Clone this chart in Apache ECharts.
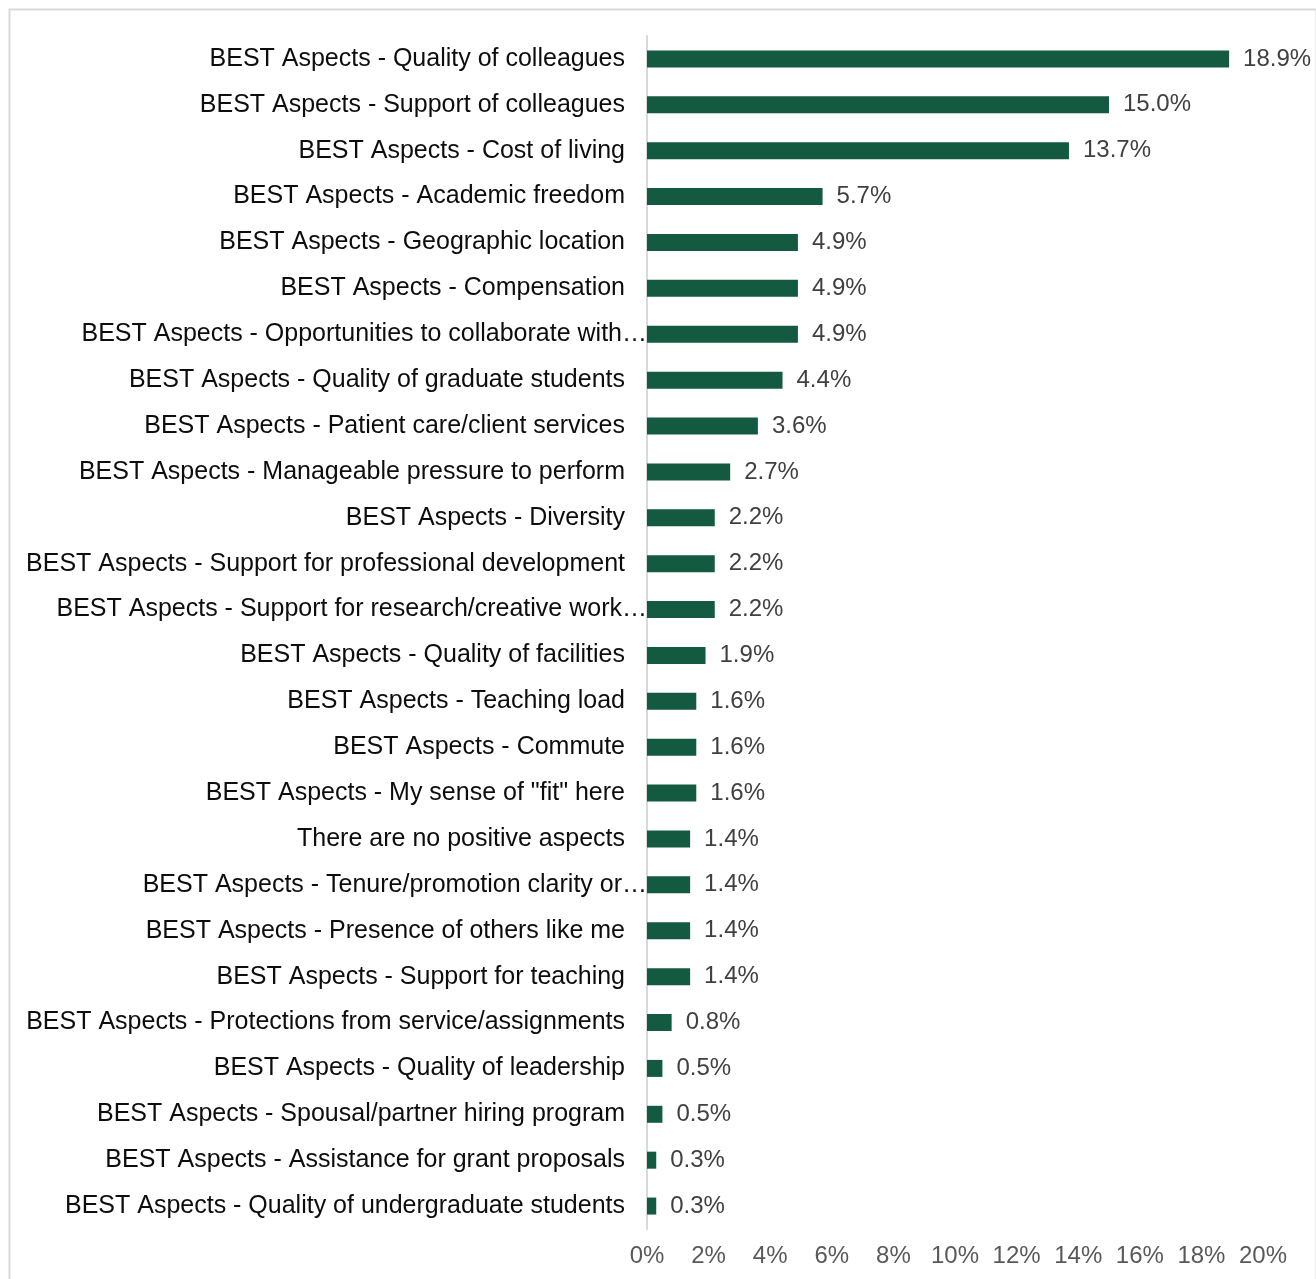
<!DOCTYPE html>
<html>
<head>
<meta charset="utf-8">
<script src="https://cdn.jsdelivr.net/npm/echarts@6/dist/echarts.min.js"></script>
<style>
  html, body { margin: 0; padding: 0; background: #ffffff; }
  #chart { width: 1316px; height: 1279px; }
</style>
</head>
<body>
<div id="chart"></div>
<script>
// Survey responses: share of faculty naming each aspect as a BEST aspect (%)
const categories = [
  'BEST Aspects - Quality of colleagues',
  'BEST Aspects - Support of colleagues',
  'BEST Aspects - Cost of living',
  'BEST Aspects - Academic freedom',
  'BEST Aspects - Geographic location',
  'BEST Aspects - Compensation',
  'BEST Aspects - Opportunities to collaborate with\u2026',
  'BEST Aspects - Quality of graduate students',
  'BEST Aspects - Patient care/client services',
  'BEST Aspects - Manageable pressure to perform',
  'BEST Aspects - Diversity',
  'BEST Aspects - Support for professional development',
  'BEST Aspects - Support for research/creative work\u2026',
  'BEST Aspects - Quality of facilities',
  'BEST Aspects - Teaching load',
  'BEST Aspects - Commute',
  'BEST Aspects - My sense of "fit" here',
  'There are no positive aspects',
  'BEST Aspects - Tenure/promotion clarity or\u2026',
  'BEST Aspects - Presence of others like me',
  'BEST Aspects - Support for teaching',
  'BEST Aspects - Protections from service/assignments',
  'BEST Aspects - Quality of leadership',
  'BEST Aspects - Spousal/partner hiring program',
  'BEST Aspects - Assistance for grant proposals',
  'BEST Aspects - Quality of undergraduate students'
];

const shares = [
  18.9, 15.0, 13.7, 5.7, 4.9, 4.9, 4.9, 4.4, 3.6, 2.7, 2.2, 2.2, 2.2,
  1.9, 1.6, 1.6, 1.6, 1.4, 1.4, 1.4, 1.4, 0.8, 0.5, 0.5, 0.3, 0.3
];

const axisMin = 0;
const axisMax = 20;
const axisStep = 2;

const FONT = '"Liberation Sans", Arial, sans-serif';

const chart = echarts.init(document.getElementById('chart'), null, { renderer: 'canvas' });

chart.setOption({
  backgroundColor: '#ffffff',
  animation: false,
  graphic: [{
    type: 'rect',
    left: 7,
    top: 7,
    shape: { width: 1307, height: 1300 },
    style: { fill: 'none', stroke: '#d9d9d9', lineWidth: 2 },
    silent: true,
    z: -1
  }],
  grid: {
    left: 647,
    right: 53,
    top: 36,
    bottom: 50,
    containLabel: false
  },
  xAxis: {
    type: 'value',
    min: axisMin,
    max: axisMax,
    interval: axisStep,
    axisLine: { show: false },
    axisTick: { show: false },
    splitLine: { show: false },
    axisLabel: {
      margin: 15,
      color: '#595959',
      fontFamily: FONT,
      fontSize: 24,
      formatter: v => v + '%'
    }
  },
  yAxis: {
    type: 'category',
    inverse: true,
    data: categories,
    axisLine: { show: true, lineStyle: { color: '#d9d9d9', width: 2 } },
    axisTick: { show: false },
    splitLine: { show: false },
    axisLabel: {
      margin: 0,
      interval: 0,
      formatter: v => (v.endsWith('\u2026') ? '{cut|' + v + '}' : '{full|' + v + '}'),
      rich: {
        full: { color: '#0d0d0d', fontFamily: FONT, fontSize: 25, padding: [0, 22, 0, 0] },
        cut: { color: '#0d0d0d', fontFamily: FONT, fontSize: 25, padding: [0, 0, 0, 0] }
      }
    }
  },
  series: [{
    type: 'bar',
    data: shares,
    barWidth: 17,
    itemStyle: { color: '#145a41' },
    label: {
      show: true,
      position: 'right',
      distance: 14,
      color: '#404040',
      fontFamily: FONT,
      fontSize: 24,
      formatter: p => p.value.toFixed(1) + '%'
    }
  }]
});
</script>
</body>
</html>
